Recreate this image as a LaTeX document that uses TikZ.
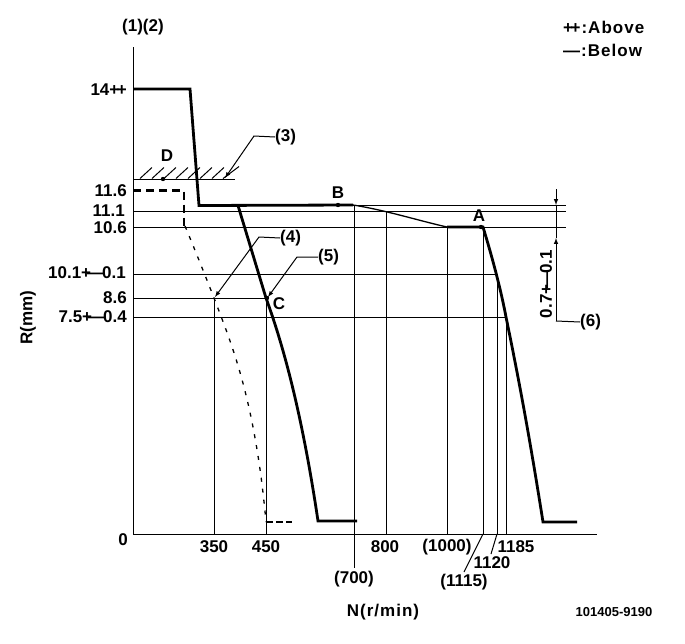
\documentclass[tikz,border=0pt]{standalone}
\usepackage{fontspec}
\setmainfont{Liberation Sans}
\usetikzlibrary{arrows,positioning}

\begin{document}
\begin{tikzpicture}[
			x=1pt, y=-1pt,
			lab/.style  = {font=\fontsize{17}{17}\selectfont\bfseries, inner sep=0pt},
			wide/.style = {font=\fontsize{17}{17}\selectfont\bfseries\addfontfeature{LetterSpace=6}, inner sep=0pt},
			grid/.style = {draw, line width=1pt},
			curve/.style = {draw, line width=2.8pt},
			thin curve/.style = {draw, line width=1.3pt},
			lead/.style = {->, draw, line width=1pt},
			hatch/.style = {draw, line width=1pt},
			>=latex]
			\useasboundingbox (0,0) rectangle (685,643);
			
			% axes
			\coordinate (top) at (133,47);
			\coordinate (orig) at (133,534);
			\coordinate (end) at (597,534);
			\draw[grid] (top) -- (orig) -- (end);
			
			% horizontal lines, from the axis to their end
			\foreach \name/\y/\xend in {d/179/235, e/205/566, f/211/566, g/227/566, h/274/497, i/298/267, j/317/506}
			{
				\coordinate (l\name) at (133,\y);
				\coordinate (r\name) at (\xend,\y);
			}
			\foreach \name in {d,f,g,h,i,j}
			\draw[grid] (l\name) -- (r\name);
			\coordinate (pb) at (353,205);
			\draw[grid] (pb) -- (re);
			
			% vertical lines
			\foreach \name/\x/\y in {a/214/298, b/266/298, c/386/211, k/447/227, m/483/227, n/497/274, o/506/317}
			{
				\coordinate (t\name) at (\x,\y);
				\coordinate (b\name) at (\x,534);
				\draw[grid] (t\name) -- (b\name);
			}
			\coordinate (t700) at (354,205);
			\coordinate (b700) at (354,568);
			\draw[grid] (t700) -- (b700);
			
			% hatching of the stop
			\foreach \x in {140,152,...,212}
			\draw[hatch] (\x,178.5) -- ++(12,-11);
			\draw[hatch] (223,178.5) -- ++(16,-12);
			
			% full load curves
			\draw[curve] (133,89) -- (190,89) -- (199,205.5) -- (pb);
			\draw[thin curve] (pb) .. controls (385,210) and (420,221) .. (447,227);
			\draw[curve] (447,227) -- (483,227)
			.. controls (490,250) and (500,285) .. (506,317)
			.. controls (520,385) and (530,440) .. (543,522) -- (577,522);
			\draw[curve] (238,205.5) -- (266,298)
			.. controls (285,350) and (303,420) .. (318,521) -- (357,521);
			
			% below curve
			\draw[curve, dash pattern=on 8pt off 5pt] (133,190.5) -- (184,190.5) -- (184,226);
			\draw[thin curve, dash pattern=on 4pt off 7pt] (185,226) .. controls (195,250) and (205,275) .. (214,298)
			.. controls (232,345) and (255,400) .. (266,522);
			\draw[curve, dash pattern=on 7pt off 3pt] (266,522) -- (292,522);
			
			% dots on the curves
			\foreach \name/\x/\y in {D/163/179, B/338/205, A/481/227, C/267/298}
			\fill (\x,\y) circle (2.2pt) coordinate (pt\name);
			
			% letters
			\begin{scope}[every node/.style={lab}]
				\node at (167,156) (lD) {D};
				\node at (338,193) (lB) {B};
				\node at (479,216) (lA) {A};
				\node at (279,304) (lC) {C};
			\end{scope}
			
			% values on the R axis
			\begin{scope}[every node/.style={lab, anchor=east}]
				\node at (127,90) (v14) {14+\kern-2.5pt+};
				\node at (127,191) (v116) {11.6};
				\node at (125,211) (v111) {11.1};
				\node at (127,228) (v106) {10.6};
				\node at (126,273) (v101) {10.1+\kern-4pt—\kern-2pt0.1};
				\node at (127,298) (v86) {8.6};
				\node at (127,317) (v75) {7.5+\kern-4pt—\kern-2pt0.4};
			\end{scope}
			
			% values on the N axis
			\begin{scope}[every node/.style={lab}]
				\node at (123,540) (n0) {0};
				\node at (214,547) (n350) {350};
				\node at (266,547) (n450) {450};
				\node at (385,547) (n800) {800};
				\node at (354,579) (n700) {(700)};
				\node at (447,547) (n1000) {(1000)};
				\node at (516,547) (n1185) {1185};
				\node at (492,563) (n1120) {1120};
				\node at (464,582) (n1115) {(1115)};
			\end{scope}
			\coordinate (s1115) at (464,572);
			\coordinate (s1120) at (491,554);
			\draw[grid] (bm) -- (s1115);
			\draw[grid] (bn) -- (s1120);
			
			% numbered leaders
			\coordinate (k3) at (254,136);
			\coordinate (k4) at (259,237);
			\coordinate (k5) at (297,257);
			\coordinate (h3) at (225,178);
			\coordinate (h4) at (215,297);
			\coordinate (h5) at (268,297);
			\node[lab, anchor=west] at (275,137) (c3) {(3)};
			\node[lab, anchor=west] at (280,238) (c4) {(4)};
			\node[lab, anchor=west] at (318,257) (c5) {(5)};
			\draw[lead] (c3.west) -- (k3) -- (h3);
			\draw[lead] (c4.west) -- (k4) -- (h4);
			\draw[lead] (c5.west) -- (k5) -- (h5);
			
			% dimension on the right
			\coordinate (d1) at (556,189);
			\coordinate (d2) at (556,205);
			\coordinate (d3) at (556,238);
			\coordinate (d4) at (556,321);
			\node[lab, anchor=west] at (580,322) (c6) {(6)};
			\draw[->, grid] (d1) -- (d2);
			\draw[->, grid] (d4) -- (d3);
			\draw[grid] (d2) -- (d3);
			\draw[grid] (d4) -- (c6.west);
			\node[lab, rotate=90] at (546,284) (dim) {0.7+\kern-4pt—\kern-2pt0.1};
			
			% titles
			\node[lab] at (143,27) (title) {(1)(2)};
			\node[lab, rotate=90] at (28,318) (rlabel) {R(mm)};
			\node[wide] at (383,612) (nlabel) {N(r/min)};
			\node[wide, anchor=west] at (563,27) (above) {+\kern-2.5pt+:Above};
			\node[wide, anchor=west] at (563,50) (below) {—:Below};
			\node[lab, font=\fontsize{13}{13}\selectfont\bfseries] at (614,612) (code) {101405-9190};
		\end{tikzpicture}
\end{document}
